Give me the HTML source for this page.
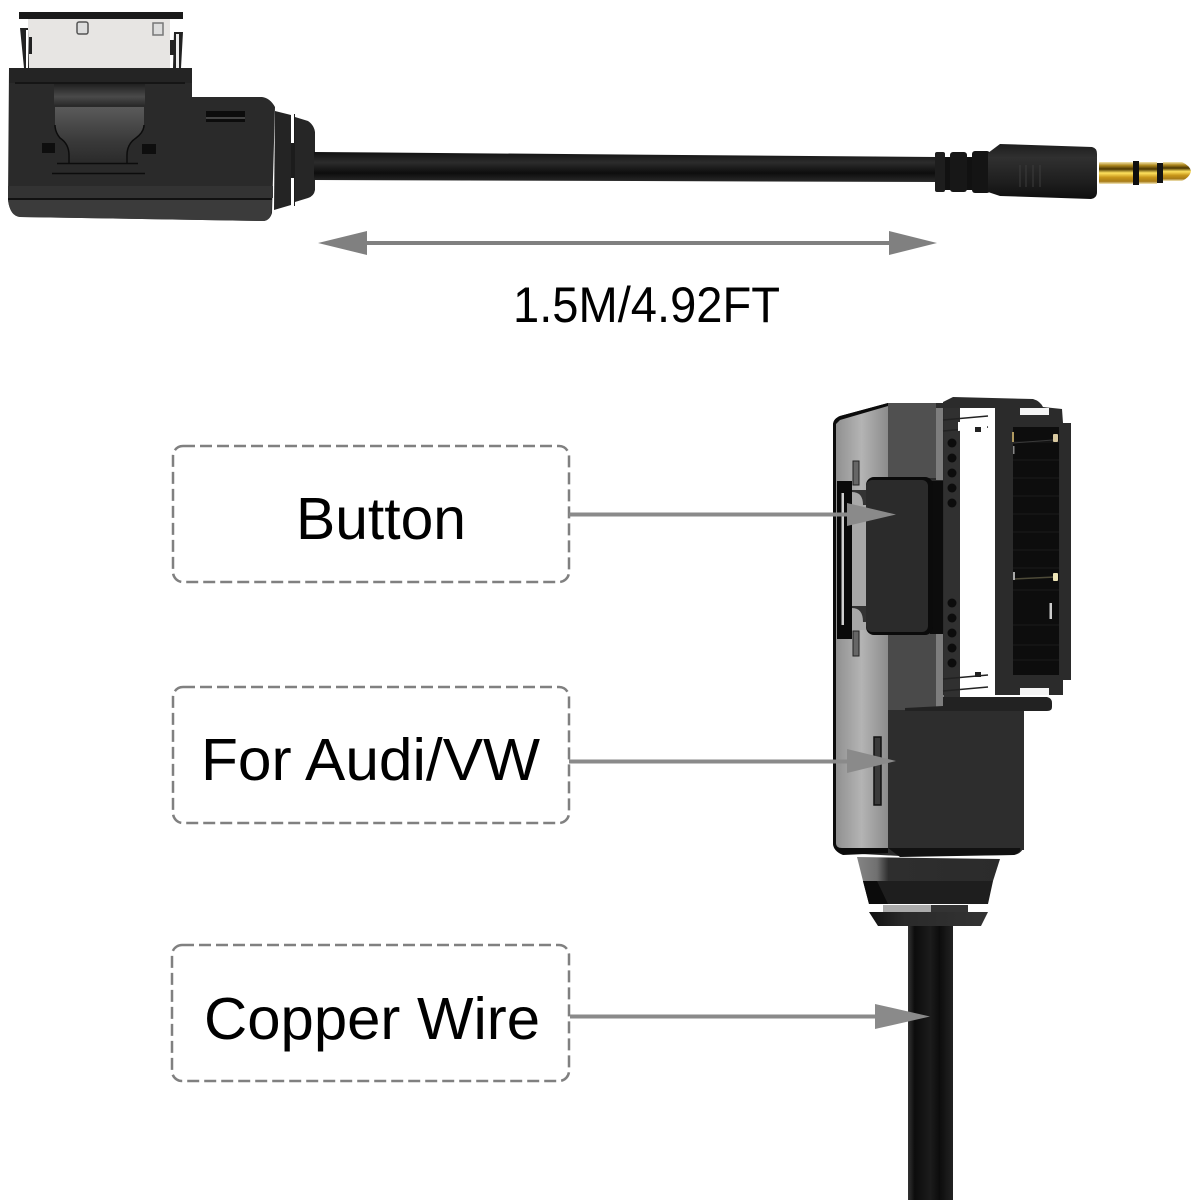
<!DOCTYPE html>
<html><head><meta charset="utf-8"><title>Cable diagram</title>
<style>html,body{margin:0;padding:0;background:#fff}svg{display:block}text{font-family:"Liberation Sans",sans-serif;fill:#000}</style>
</head><body>
<svg width="1200" height="1200" viewBox="0 0 1200 1200" xmlns="http://www.w3.org/2000/svg">
<defs>
<linearGradient id="gold" x1="0" y1="0" x2="0" y2="1"><stop offset="0" stop-color="#f3e6b0"/><stop offset=".15" stop-color="#b08a20"/><stop offset=".32" stop-color="#4a3500"/><stop offset=".5" stop-color="#ffe25e"/><stop offset=".7" stop-color="#c8961a"/><stop offset=".88" stop-color="#a87c18"/><stop offset="1" stop-color="#f5eac0"/></linearGradient>
<linearGradient id="cabH" x1="0" y1="0" x2="0" y2="1"><stop offset="0" stop-color="#111"/><stop offset=".35" stop-color="#2c2c2c"/><stop offset=".7" stop-color="#0d0d0d"/><stop offset="1" stop-color="#2a2a2a"/></linearGradient>
<linearGradient id="cabV" x1="0" y1="0" x2="1" y2="0"><stop offset="0" stop-color="#333"/><stop offset=".15" stop-color="#0c0c0c"/><stop offset=".5" stop-color="#1c1c1c"/><stop offset=".7" stop-color="#0c0c0c"/><stop offset="1" stop-color="#222"/></linearGradient>
<linearGradient id="panel" x1="0" y1="0" x2="1" y2="0"><stop offset="0" stop-color="#8f8f8f"/><stop offset=".5" stop-color="#b4b4b4"/><stop offset="1" stop-color="#8c8c8c"/></linearGradient>
<linearGradient id="tab" x1="0" y1="0" x2="0" y2="1"><stop offset="0" stop-color="#202020"/><stop offset=".6" stop-color="#4a4a4a"/><stop offset="1" stop-color="#2c2c2c"/></linearGradient>
<linearGradient id="tab2" x1="0" y1="0" x2="0" y2="1"><stop offset="0" stop-color="#5a5a5a"/><stop offset=".6" stop-color="#3a3a3a"/><stop offset="1" stop-color="#2a2a2a"/></linearGradient>
<linearGradient id="barrel" x1="0" y1="0" x2="0" y2="1"><stop offset="0" stop-color="#1d1d1d"/><stop offset=".25" stop-color="#303030"/><stop offset=".7" stop-color="#1e1e1e"/><stop offset="1" stop-color="#0f0f0f"/></linearGradient>
<linearGradient id="ringG" x1="0" y1="0" x2="1" y2="0"><stop offset="0" stop-color="#111"/><stop offset=".3" stop-color="#2a2a2a"/><stop offset="1" stop-color="#333"/></linearGradient>
<linearGradient id="collarG" x1="0" y1="0" x2="1" y2="0"><stop offset="0" stop-color="#858585"/><stop offset=".14" stop-color="#707070"/><stop offset=".22" stop-color="#2e2e2e"/><stop offset="1" stop-color="#2b2b2b"/></linearGradient>
</defs>
<rect width="1200" height="1200" fill="#fff"/>

<!-- top-left connector -->
<rect x="28" y="19" width="142" height="50" fill="#e7e5e3"/>
<rect x="19" y="12" width="164" height="7" fill="#1a1a1a"/>
<rect x="77" y="22" width="11" height="12" rx="2" fill="#ddd" stroke="#555" stroke-width="1.5"/>
<rect x="153" y="23" width="10" height="12" fill="#ddd" stroke="#777" stroke-width="1.5"/>
<path d="M20 28h8l1 40h-5z M29 37h3v17h-3z" fill="#222"/>
<path d="M174 32h9l-2 36h-8z M170 40h4v15h-4z" fill="#222"/>
<rect x="26" y="30" width="2" height="38" fill="#fff"/>
<rect x="176" y="34" width="3" height="34" fill="#eee"/>
<path d="M9 68H192V97H262Q270 98 275 107L272 213Q270 220 264 221L20 217Q10 216 8 200Z" fill="#2a2a2a"/>
<path d="M9 68H192V83H9Z" fill="#242424"/>
<path d="M15 83H185" stroke="#151515" stroke-width="2"/>
<path d="M8 186H273V198H8Z" fill="#333"/>
<path d="M8 198H272V200H8Z" fill="#111"/>
<path d="M8 200H272L271 213Q270 220 264 221L20 217Q10 216 8 200Z" fill="#3b3b3b"/>
<path d="M54 84H145V105H54Z" fill="url(#tab)"/>
<path d="M55 107H144V125Q144 132 136 138Q127 144 127 155V163H69V155Q69 144 60 138Q55 132 55 125Z" fill="url(#tab2)"/>
<path d="M55 125Q55 132 60 138Q69 144 69 155V163M144 125Q144 132 136 138Q127 144 127 155V163" fill="none" stroke="#0c0c0c" stroke-width="1.5"/>
<path d="M57 163.5H138M52 173.5H145" stroke="#0c0c0c" stroke-width="1.5"/>
<rect x="42" y="143" width="13" height="10" fill="#0e0e0e"/>
<rect x="142" y="144" width="14" height="10" fill="#0e0e0e"/>
<rect x="206" y="111" width="39" height="11" fill="#0c0c0c"/>
<rect x="206" y="117" width="39" height="2" fill="#444"/>
<!-- collar -->
<path d="M275 111L291 115V205L274 210Z" fill="#242424"/>
<path d="M295 117L308 121Q314 125 315 132V190Q314 196 308 198L295 202Z" fill="#262626"/>
<rect x="291" y="114" width="4" height="92" fill="#1c1c1c"/>
<rect x="291" y="114" width="3" height="29" fill="#fff"/>
<rect x="291" y="178" width="3" height="29" fill="#fff"/>
<!-- horizontal cable -->
<path d="M314 152L937 157V182L314 180Z" fill="url(#cabH)"/>
<!-- plug -->
<path d="M935 157H975V190H935Z" fill="#111"/>
<rect x="935" y="152" width="10" height="40" rx="2" fill="#1d1d1d"/>
<rect x="950" y="152" width="17" height="40" rx="3" fill="#171717"/>
<rect x="972" y="151" width="18" height="42" rx="3" fill="#141414"/>
<path d="M988 153L1000 144L1092 147Q1097 148 1097 154V192Q1097 198 1091 199L1000 196L988 192Z" fill="url(#barrel)"/>
<path d="M1020 165v22M1026 165v22M1033 165v22M1040 165v22" stroke="#3c3c3c" stroke-width="1"/>
<rect x="1099" y="162" width="34" height="22" rx="1" fill="url(#gold)"/>
<rect x="1133" y="161" width="6" height="24" fill="#0e0e0e"/>
<rect x="1139" y="162" width="18" height="22" fill="url(#gold)"/>
<rect x="1157" y="163" width="6" height="20" fill="#141414"/>
<path d="M1163 162H1182Q1190 166 1191 171Q1190 177 1182 181H1163Z" fill="url(#gold)"/>

<!-- dimension arrow -->
<path d="M318 243L367 231V241H889V231L937 243L889 255V245H367V255Z" fill="#808080"/>
<text x="513" y="322" font-size="50" textLength="267" lengthAdjust="spacingAndGlyphs">1.5M/4.92FT</text>

<!-- dashed boxes -->
<g fill="none" stroke="#808080" stroke-width="2.5" stroke-dasharray="12 5">
<rect x="173" y="446" width="396" height="136" rx="10"/>
<rect x="173" y="687" width="396" height="136" rx="10"/>
<rect x="172" y="945" width="397" height="136" rx="10"/>
</g>
<text x="296" y="539" font-size="59" textLength="170" lengthAdjust="spacingAndGlyphs">Button</text>
<text x="201" y="780" font-size="59" textLength="339" lengthAdjust="spacingAndGlyphs">For Audi/VW</text>
<text x="204" y="1039" font-size="59" textLength="336" lengthAdjust="spacingAndGlyphs">Copper Wire</text>

<!-- vertical device: collar and cable -->
<rect x="908" y="924" width="45" height="276" fill="url(#cabV)"/>
<path d="M857 857L1000 859L993 881H863Z" fill="url(#collarG)"/>
<path d="M863 881H993L988 904H869Z" fill="#1e1e1e"/>
<path d="M863 881H877L888 904H869Z" fill="#0b0b0b"/>
<rect x="869" y="905" width="119" height="7" fill="#fff"/>
<rect x="883" y="905" width="48" height="7" fill="#aaa"/>
<rect x="931" y="905" width="37" height="7" fill="#333"/>
<path d="M869 912H988L981 926H878Z" fill="url(#ringG)"/>

<!-- vertical device: body -->
<path d="M843 853Q833 851 833 843V425Q833 419 840 416L888 403H945V712H1024V843Q1024 853 1014 855L900 856Z" fill="#2c2c2c"/>
<path d="M835 421L888 405V850H842Q835 848 835 842Z" fill="url(#panel)"/>
<path d="M833 425Q833 419 840 416L888 403V406L840 420L836 424V843Q836 848 842 848H888V853L843 855Q833 851 833 843Z" fill="#0b0b0b"/>
<rect x="888" y="403" width="48" height="75" fill="#505050"/>
<rect x="888" y="632" width="48" height="78" fill="#4a4a4a"/>
<rect x="936" y="408" width="8" height="72" fill="#7d7d7d"/>
<rect x="936" y="630" width="8" height="78" fill="#7d7d7d"/>
<rect x="888" y="710" width="136" height="140" fill="#2d2d2d"/>
<path d="M888 848H1020Q1022 852 1014 855L900 857Z" fill="#111"/>
<!-- right frame -->
<path d="M943 402L953 397L1033 399Q1040 401 1043 407L1062 409L1063 423H1071V680H1063V695H943Z" fill="#2b2b2b"/>
<rect x="1013" y="427" width="46" height="248" fill="#0d0d0d"/>
<path d="M1013 442h46M1013 460h46M1013 478h46M1013 496h46M1013 514h46M1013 532h46M1013 550h46M1013 568h46M1013 590h46M1013 625h46M1013 645h46M1013 660h46" stroke="#171717" stroke-width="1.5"/>
<path d="M1014 579L1055 577" stroke="#4d4a38" stroke-width="1.5"/>
<path d="M1013 443L1053 440" stroke="#3a3a3a" stroke-width="1"/>
<rect x="960" y="408" width="35" height="289" fill="#fff"/>
<rect x="944" y="408" width="16" height="290" fill="#303030"/>
<rect x="1020" y="408" width="29" height="7" fill="#f4f4f4"/>
<rect x="1020" y="688" width="29" height="7" fill="#f4f4f4"/>
<rect x="1053" y="434" width="5" height="8" rx="1" fill="#d9c9a0"/>
<rect x="1012" y="432" width="2" height="10" fill="#b09a60"/>
<rect x="1013" y="446" width="1.5" height="8" fill="#888"/>
<rect x="1053" y="573" width="5" height="8" rx="1" fill="#efe6b8"/>
<rect x="1013" y="572" width="2" height="8" fill="#aaa"/>
<rect x="1049.5" y="603" width="2.5" height="16" fill="#ccc"/>
<!-- clips in window -->
<path d="M943 420L988 416M943 431L988 427M943 679L988 675M943 691L988 687" stroke="#222" stroke-width="1.5"/>
<path d="M958 422H987V428L958 431Z" fill="#fff"/>
<rect x="975" y="427" width="6" height="5" fill="#222"/>
<rect x="975" y="672" width="6" height="5" fill="#222"/>
<!-- dots -->
<g fill="#0c0c0c"><circle cx="952" cy="443" r="4.5"/><circle cx="952" cy="458" r="4.5"/><circle cx="952" cy="473" r="4.5"/><circle cx="952" cy="488" r="4.5"/><circle cx="952" cy="503" r="4.5"/><circle cx="952" cy="603" r="4.5"/><circle cx="952" cy="618" r="4.5"/><circle cx="952" cy="633" r="4.5"/><circle cx="952" cy="648" r="4.5"/><circle cx="952" cy="663" r="4.5"/></g>
<!-- lower lip -->
<path d="M943 697H1047Q1052 698 1052 703V707Q1052 711 1047 711H905L905 708L943 706Z" fill="#222"/>
<!-- side slot -->
<rect x="837" y="481" width="15" height="158" fill="#0a0a0a"/>
<rect x="841.5" y="493" width="2.5" height="132" fill="#d0d0d0"/>
<rect x="852" y="490" width="14" height="140" fill="#a8a8a8"/>
<path d="M852 492Q863 492 863 505H866V490H852ZM852 608Q863 608 863 622H866V606H852Z" fill="#333"/>
<rect x="853" y="461" width="6" height="24" fill="#666" stroke="#222"/>
<rect x="853" y="631" width="6" height="25" fill="#666" stroke="#222"/>
<rect x="874" y="737" width="7" height="68" fill="#3a3a3a" stroke="#111" stroke-width="1.5"/>
<!-- button -->
<rect x="930" y="481" width="13" height="153" fill="#0c0c0c"/>
<rect x="866" y="477" width="67" height="158" rx="8" fill="#0b0b0b"/>
<rect x="866" y="480" width="62" height="152" rx="6" fill="#2b2b2b"/>

<!-- callout arrows -->
<g fill="#8a8a8a">
<path d="M569 512.5H847V503L896 514.5L847 526V516.5H569Z"/>
<path d="M569 759.5H847V749L896 761L847 773V763.5H569Z"/>
<path d="M570 1014.5H875V1004L930 1016.5L875 1029V1018.5H570Z"/>
</g>
</svg>
</body></html>
